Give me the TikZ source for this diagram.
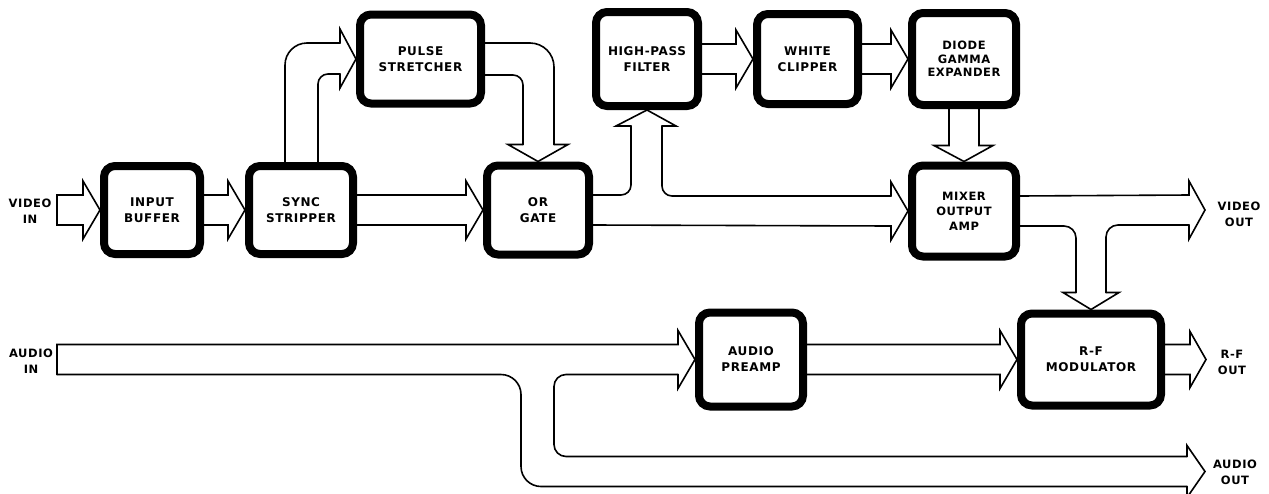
\documentclass[tikz,border=0pt]{standalone}
\usepackage{fontspec}
\newfontfamily\lblfont{DejaVu Sans}[LetterSpace=5]
\usetikzlibrary{calc}
\tikzset{
  blk/.style={draw, line width=8pt, rounded corners=11pt, fill=white, align=center,
    inner sep=0pt, outer sep=4pt, font=\lblfont\bfseries\fontsize{12}{16}\selectfont},
  lbl/.style={align=center, inner sep=0pt, font=\lblfont\bfseries\fontsize{11.5}{16}\selectfont},
  conn/.style={line width=1.6pt, line join=miter, line cap=round},
}
\newcommand\harrow[2]{%
  \draw[conn] ($(#1.east)+(0,-15)$) -- ($(#2.west)+(-17,-15)$) -- ($(#2.west)+(-17,-29)$) -- (#2.west)
    -- ($(#2.west)+(-17,29)$) -- ($(#2.west)+(-17,15)$) -- ($(#1.east)+(0,15)$);}
\begin{document}
\begin{tikzpicture}[x=1pt, y=-1pt]
\useasboundingbox (0,0) rectangle (1269,493);
% boxes
\node[blk, minimum width=96, minimum height=88] (ib) at (152,210) {INPUT\\BUFFER};
\node[blk, minimum width=104, minimum height=88] (ss) at (301,210) {SYNC\\STRIPPER};
\node[blk, minimum width=121, minimum height=89] (ps) at (420.5,59) {PULSE\\STRETCHER};
\node[blk, minimum width=102, minimum height=89] (or) at (538,210) {OR\\GATE};
\node[blk, minimum width=102, minimum height=94] (hp) at (647,59) {HIGH-PASS\\FILTER};
\node[blk, minimum width=101, minimum height=90] (wc) at (807.5,59) {WHITE\\CLIPPER};
\node[blk, minimum width=104, minimum height=92, font=\lblfont\bfseries\fontsize{11.5}{13.5}\selectfont] (dg) at (964,59) {DIODE\\GAMMA\\EXPANDER};
\node[blk, minimum width=104, minimum height=91, font=\lblfont\bfseries\fontsize{11.5}{15}\selectfont] (mx) at (964,211) {MIXER\\OUTPUT\\AMP};
\node[blk, minimum width=104, minimum height=94] (ap) at (751,359.5) {AUDIO\\PREAMP};
\node[blk, minimum width=140, minimum height=92] (rf) at (1091,359.5) {R-F\\MODULATOR};
% free ends
\coordinate (vin) at (57,210);
\coordinate (vo) at (1205,210);
\coordinate (rfo) at (1206,359.5);
\coordinate (ain) at (57,359.5);
\coordinate (aout) at (1205,471.5);
\coordinate (bo) at (521,0);
\coordinate (bi) at (554,0);
\coordinate (aoT) at ($(aout)+(-18,-15)$);
\coordinate (aoB) at ($(aout)+(-18,15)$);
% labels
\node[lbl] (vinl) at (30,211) {VIDEO\\IN};
\node[lbl] (ainl) at (31,361) {AUDIO\\IN};
\node[lbl] (vol) at (1239,214) {VIDEO\\OUT};
\node[lbl] (rfol) at (1232,362) {R-F\\OUT};
\node[lbl] (aol) at (1235,472) {AUDIO\\OUT};
% straight arrows
\harrow{ib}{ss}
\harrow{ss}{or}
\harrow{hp}{wc}
\harrow{wc}{dg}
\harrow{ap}{rf}
% video in
\draw[conn] ($(vin)+(0,15)$) -- ($(vin)+(0,-15)$) -- ($(ib.west)+(-17,-15)$) -- ($(ib.west)+(-17,-29)$)
  -- (ib.west) -- ($(ib.west)+(-17,29)$) -- ($(ib.west)+(-17,15)$) -- cycle;
% sync stripper -> pulse stretcher
\draw[conn, rounded corners=22] ($(ss.north)+(-16,0)$) |- ($(ps.west)+(-16,-16)$);
\draw[conn] ($(ps.west)+(-16,-16)$) -- ($(ps.west)+(-16,-30)$) -- (ps.west) -- ($(ps.west)+(-16,29)$) -- ($(ps.west)+(-16,15)$);
\draw[conn, rounded corners=10] ($(ps.west)+(-16,15)$) -| ($(ss.north)+(17,0)$);
% pulse stretcher -> or gate
\draw[conn, rounded corners=24] ($(ps.east)+(0,-16)$) -| ($(or.north)+(16,-17)$);
\draw[conn] ($(or.north)+(16,-17)$) -- ($(or.north)+(30,-17)$) -- (or.north) -- ($(or.north)+(-30,-17)$) -- ($(or.north)+(-15,-17)$);
\draw[conn, rounded corners=10] ($(or.north)+(-15,-17)$) |- ($(ps.east)+(0,16)$);
% or gate -> high-pass / mixer
\draw[conn, rounded corners=10] ($(or.east)+(0,-15)$) -| ($(hp.south)+(-16,16)$);
\draw[conn] ($(hp.south)+(-16,16)$) -- ($(hp.south)+(-31,16)$) -- (hp.south) -- ($(hp.south)+(29,16)$) -- ($(hp.south)+(15,16)$);
\draw[conn, rounded corners=10] ($(hp.south)+(15,16)$) |- ($(mx.west)+(-17,-15)$);
\draw[conn] ($(mx.west)+(-17,-15)$) -- ($(mx.west)+(-17,-29)$) -- (mx.west) -- ($(mx.west)+(-17,29)$)
  -- ($(mx.west)+(-17,15)$) -- ($(or.east)+(0,15)$);
% diode -> mixer
\draw[conn] ($(dg.south)+(-15,0)$) -- ($(mx.north)+(-15,-16)$) -- ($(mx.north)+(-30,-16)$) -- (mx.north)
  -- ($(mx.north)+(29,-16)$) -- ($(mx.north)+(15,-16)$) -- ($(dg.south)+(15,0)$);
% mixer -> video out / rf
\draw[conn] ($(mx.east)+(0,-15)$) -- ($(vo)+(-16,-15)$) -- ($(vo)+(-16,-29)$) -- (vo) -- ($(vo)+(-16,29)$) -- ($(vo)+(-16,15)$);
\draw[conn, rounded corners=12] ($(vo)+(-16,15)$) -| ($(rf.north)+(15,-17)$);
\draw[conn] ($(rf.north)+(15,-17)$) -- ($(rf.north)+(28,-17)$) -- (rf.north) -- ($(rf.north)+(-28,-17)$) -- ($(rf.north)+(-15,-17)$);
\draw[conn, rounded corners=12] ($(rf.north)+(-15,-17)$) |- ($(mx.east)+(0,15)$);
% rf out
\draw[conn] ($(rf.east)+(0,-15)$) -- ($(rfo)+(-16,-15)$) -- ($(rfo)+(-16,-28)$) -- (rfo) -- ($(rfo)+(-16,28)$)
  -- ($(rfo)+(-16,15)$) -- ($(rf.east)+(0,15)$);
% audio
\draw[conn] ($(ain)+(0,15)$) -- ($(ain)+(0,-15)$) -- ($(ap.west)+(-17,-15)$) -- ($(ap.west)+(-17,-29)$)
  -- (ap.west) -- ($(ap.west)+(-17,29)$) -- ($(ap.west)+(-17,15)$);
\draw[conn, rounded corners=12] ($(ap.west)+(-17,15)$) -| (bi |- aoT) -- (aoT);
\draw[conn] (aoT) -- ($(aoT)+(0,-11)$) -- (aout) -- ($(aoB)+(0,11)$) -- (aoB);
\draw[conn, rounded corners=20] ($(ain)+(0,15)$) -| (bo |- aoB) -- (aoB);
\end{tikzpicture}
\end{document}
